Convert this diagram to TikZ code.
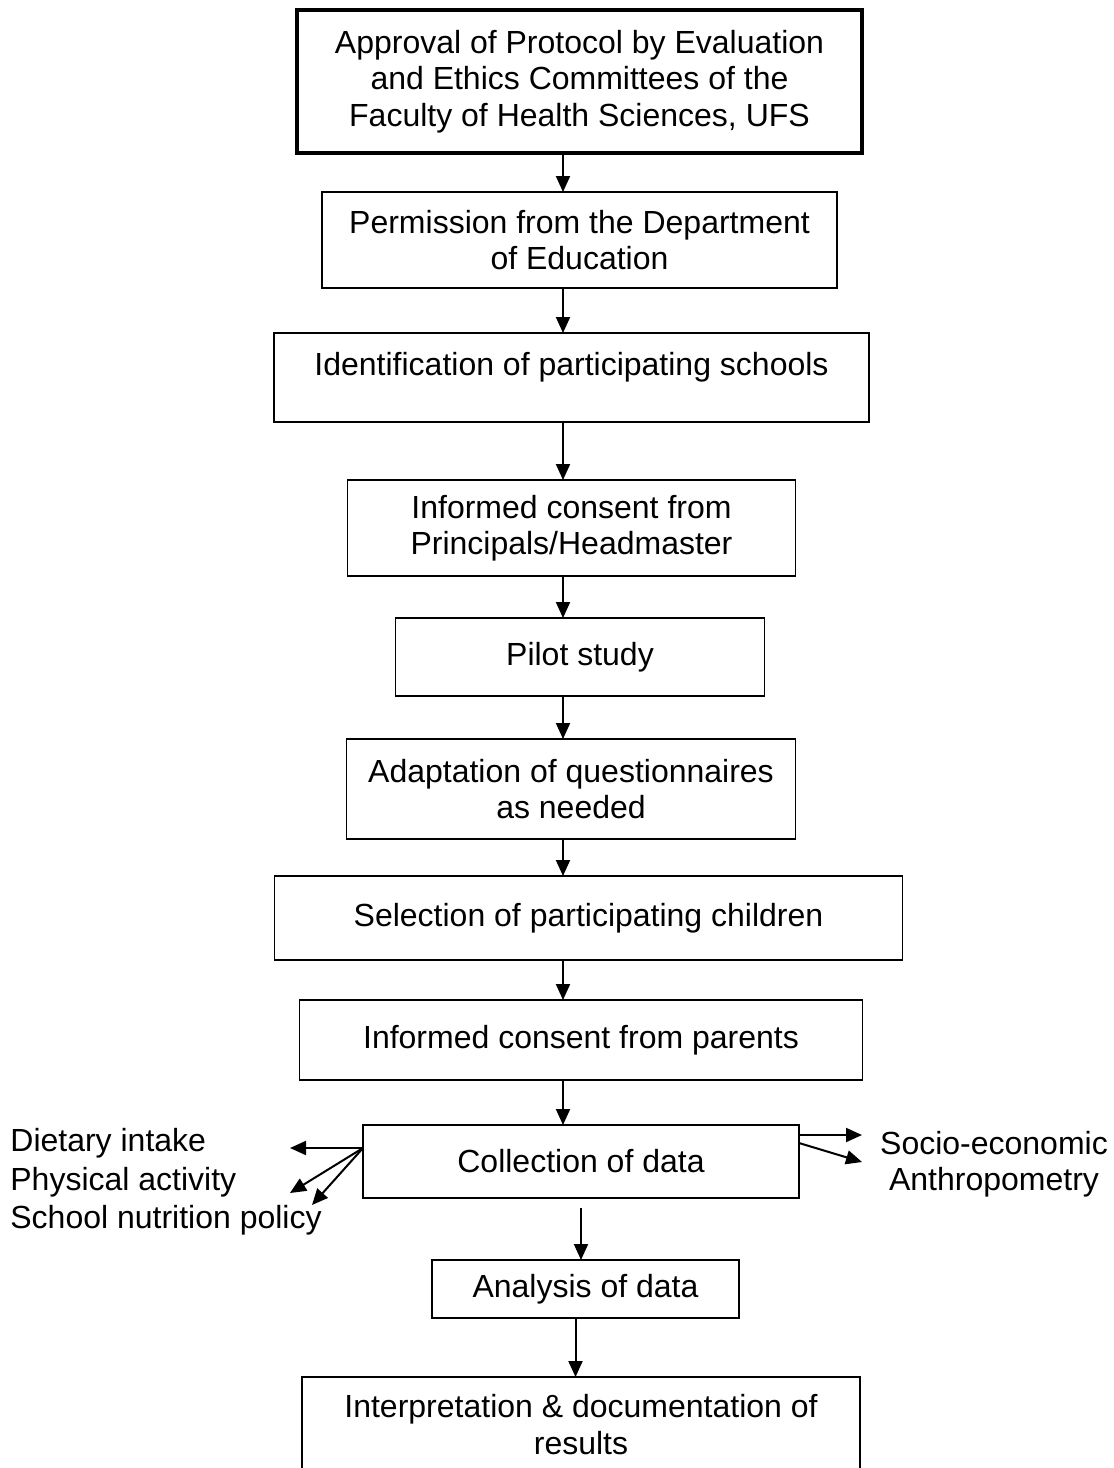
\documentclass[tikz,border=0pt]{standalone}
\usepackage{fontspec}
\setmainfont{Liberation Sans}
\usepackage{tikz}
\usetikzlibrary{arrows.meta,positioning}

\begin{document}
\begin{tikzpicture}[
    box/.style={draw, line width=0.9pt, inner sep=0pt, outer sep=0pt,
                align=center, font=\fontsize{16pt}{18.25pt}\selectfont},
    lbl/.style={inner sep=0pt, font=\fontsize{16pt}{18.25pt}\selectfont},
    arr/.style={-{Triangle[length=8pt,width=7pt]}, line width=1pt},
    node distance=20pt
]
\useasboundingbox (0,0) rectangle (557pt,-734pt);
\coordinate (spine) at (281.5pt,0);

\node[box, line width=1.6pt, minimum width=282.5pt, minimum height=71.5pt]
      (appr) at (289.75pt,-40.75pt)
      {Approval of Protocol by Evaluation\\
       and Ethics Committees of the\\
       Faculty of Health Sciences, UFS};
\node[box, minimum width=257.5pt, minimum height=48pt, below=19.5pt of appr]
      (perm) {Permission from the Department\\of Education};
\node[box, minimum width=297.5pt, minimum height=44.5pt, text depth=13.3pt,
      below=22.5pt of perm, xshift=-4pt]
      (ident) {Identification of participating schools};
\node[box, minimum width=224pt, minimum height=48pt, below=29pt of ident]
      (consP) {Informed consent from\\Principals/Headmaster};
\node[box, minimum width=184.5pt, minimum height=39pt,
      below=21pt of consP, xshift=4.25pt]
      (pilot) {Pilot study};
\node[box, minimum width=224.5pt, minimum height=50pt,
      below=21.5pt of pilot, xshift=-4.5pt]
      (adapt) {Adaptation of questionnaires\\as needed};
\node[box, minimum width=314pt, minimum height=42pt,
      below=18.5pt of adapt, xshift=8.75pt]
      (select) {Selection of participating children};
\node[box, minimum width=281.5pt, minimum height=40pt,
      below=20pt of select, xshift=-3.75pt]
      (consC) {Informed consent from parents};
\node[box, minimum width=218pt, minimum height=36.5pt, below=22.5pt of consC]
      (collect) {Collection of data};
\node[box, minimum width=153.5pt, minimum height=29pt,
      below=31pt of collect, xshift=2.25pt]
      (analys) {Analysis of data};
\node[box, minimum width=279pt, minimum height=47.5pt,
      below=29.5pt of analys, xshift=-2.25pt]
      (interp) {Interpretation \& documentation of\\results};

% what is collected
\node[lbl, anchor=west] (diet)   at (5pt,-571.5pt) {Dietary intake};
\node[lbl, anchor=west] (phys)   at (5pt,-591pt)   {Physical activity};
\node[lbl, anchor=west] (policy) at (5pt,-610pt)   {School nutrition policy};
\node[lbl] (socio)  at (497pt,-571.5pt) {Socio-economic};
\node[lbl] (anthro) at (497pt,-591pt)   {Anthropometry};

\coordinate (dietEnd)   at (145pt,-574pt);
\coordinate (physEnd)   at (145pt,-596.5pt);
\coordinate (policyEnd) at (156pt,-602.5pt);
\coordinate (socioEnd)  at (431pt,-567.5pt);
\coordinate (anthroEnd) at (431pt,-581pt);

\draw[arr] (appr.south -| spine)   -- (perm.north -| spine);
\draw[arr] (perm.south -| spine)   -- (ident.north -| spine);
\draw[arr] (ident.south -| spine)  -- (consP.north -| spine);
\draw[arr] (consP.south -| spine)  -- (pilot.north -| spine);
\draw[arr] (pilot.south -| spine)  -- (adapt.north -| spine);
\draw[arr] (adapt.south -| spine)  -- (select.north -| spine);
\draw[arr] (select.south -| spine) -- (consC.north -| spine);
\draw[arr] (consC.south -| spine)  -- (collect.north -| spine);
\draw[arr] ([yshift=-5pt]collect.south) -- (collect.south |- analys.north);
\draw[arr] ([xshift=-5pt]analys.south)
    -- ([xshift=-5pt]analys.south |- interp.north);

\draw[arr] ([yshift=6.75pt]collect.west) -- (dietEnd);
\draw[arr] ([yshift=6.75pt]collect.west) -- (physEnd);
\draw[arr] ([yshift=6.75pt]collect.west) -- (policyEnd);
\draw[arr] ([yshift=13.25pt]collect.east) -- (socioEnd);
\draw[arr] ([yshift=9.25pt]collect.east)  -- (anthroEnd);
\end{tikzpicture}
\end{document}
